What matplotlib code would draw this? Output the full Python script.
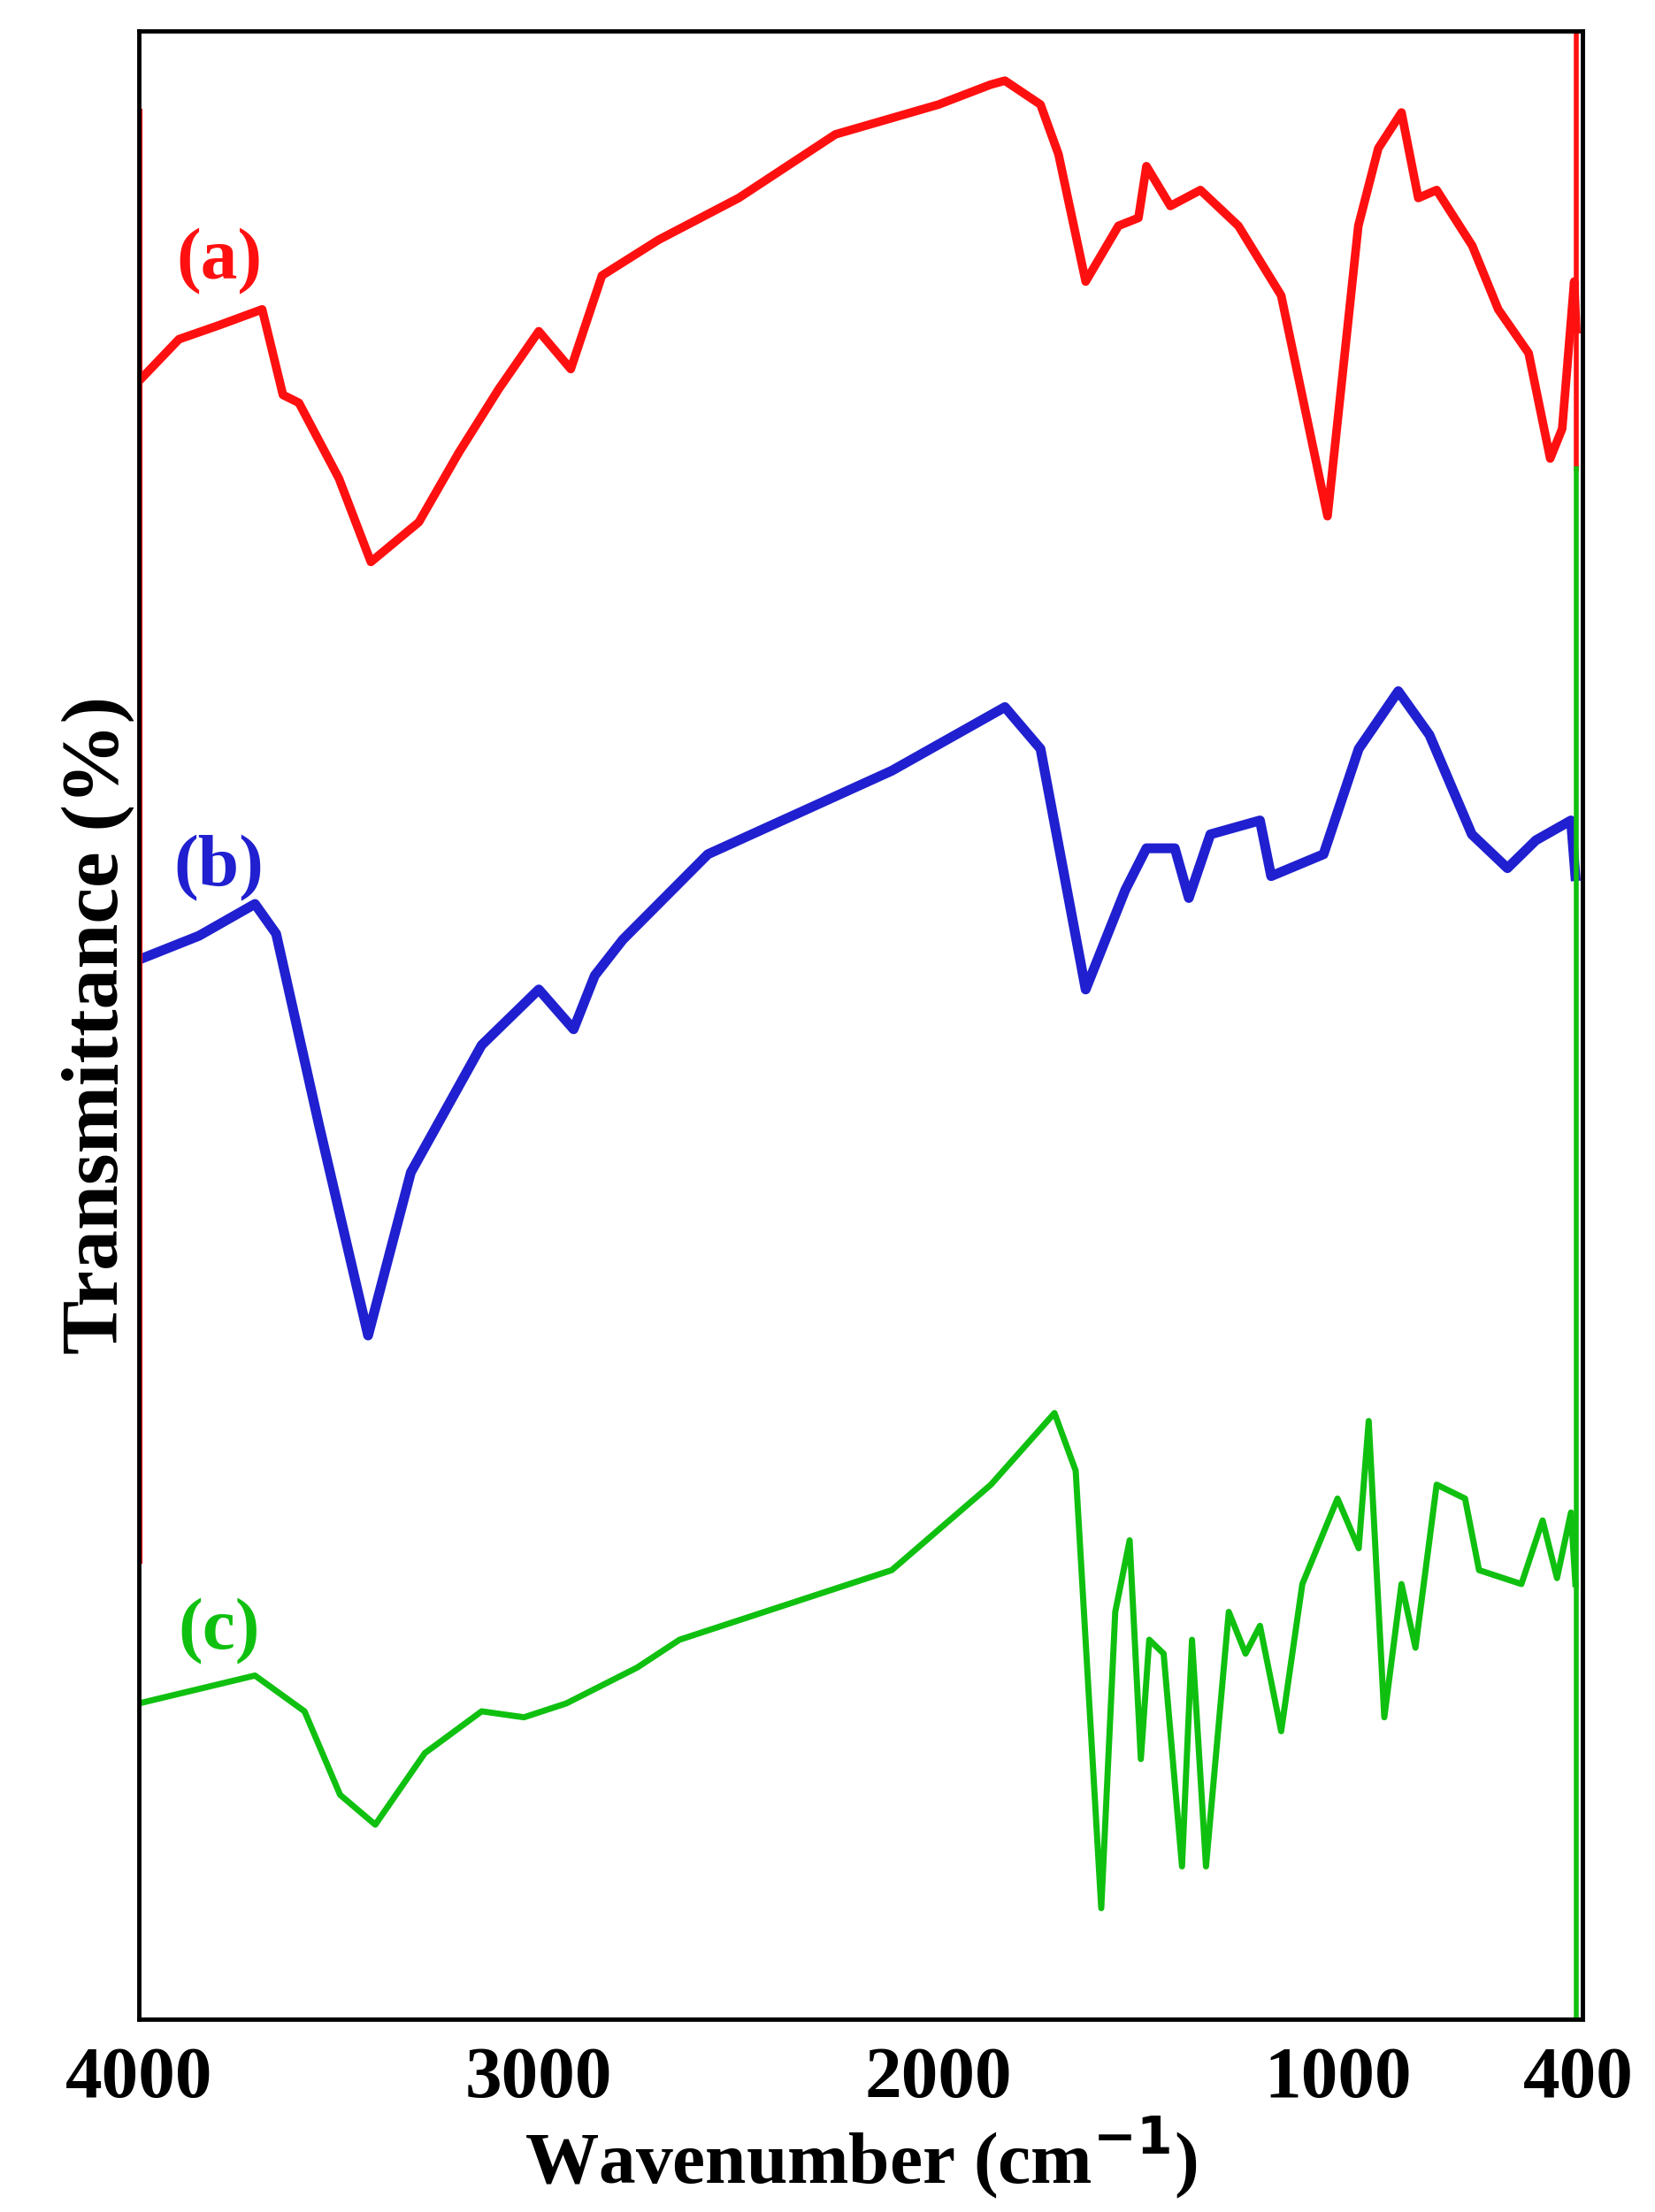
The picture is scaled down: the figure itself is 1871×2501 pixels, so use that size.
import matplotlib
matplotlib.use('Agg')
import matplotlib.pyplot as plt

# FTIR spectra, wavenumber (cm-1) vs transmittance (arbitrary %, stacked)
wn_a = [4000, 3900, 3800, 3692, 3640, 3600, 3500, 3420, 3300, 3200, 3100, 3000,
        2920, 2842, 2700, 2500, 2258, 2000, 1870, 1834, 1745, 1700, 1632, 1550,
        1500, 1480, 1420, 1345, 1250, 1143, 1027, 950, 900, 842, 800, 754, 665,
        600, 524, 470, 440, 410, 405]
t_a = [82.4, 84.5, 85.2, 86.0, 81.7, 81.3, 77.5, 73.3, 75.3, 78.8, 82.0, 84.9,
       83.0, 87.7, 89.5, 91.6, 94.8, 96.3, 97.3, 97.5, 96.3, 93.8, 87.4, 90.2,
       90.6, 93.2, 91.2, 92.0, 90.2, 86.7, 75.6, 90.2, 94.1, 95.9, 91.6, 92.0,
       89.2, 86.0, 83.8, 78.5, 80.0, 87.4, 85.0]

wn_b = [4000, 3850, 3710, 3657, 3550, 3427, 3320, 3143, 3000, 2913, 2860, 2790,
        2577, 2117, 1834, 1745, 1632, 1533, 1480, 1409, 1374, 1320, 1196, 1168,
        1037, 949, 850, 772, 666, 577, 506, 418, 407]
t_b = [53.3, 54.5, 56.1, 54.6, 45.0, 34.4, 42.6, 49.0, 51.8, 49.8, 52.5, 54.3,
       58.6, 62.8, 66.0, 63.9, 51.8, 56.8, 58.9, 58.9, 56.4, 59.6, 60.3, 57.5,
       58.6, 63.9, 66.8, 64.6, 59.6, 57.9, 59.3, 60.3, 57.5]

wn_c = [4000, 3710, 3586, 3497, 3409, 3285, 3143, 3037, 2931, 2754, 2648, 2117,
        1869, 1710, 1657, 1593, 1558, 1522, 1494, 1473, 1437, 1391, 1366, 1331,
        1274, 1232, 1196, 1143, 1090, 1002, 949, 924, 885, 842, 807, 754, 683,
        648, 542, 489, 453, 418, 407]
t_c = [15.9, 17.3, 15.5, 11.3, 9.8, 13.4, 15.5, 15.2, 15.9, 17.7, 19.1, 22.6,
       26.9, 30.5, 27.6, 5.6, 20.5, 24.1, 13.1, 19.1, 18.4, 7.7, 19.1, 7.7,
       20.5, 18.4, 19.8, 14.5, 21.9, 26.2, 23.7, 30.1, 15.2, 21.9, 18.7, 26.9,
       26.2, 22.6, 21.9, 25.1, 22.2, 25.5, 21.9]

labels = ['(a)', '(b)', '(c)']
label_y = [88.4, 57.9, 19.5]
colors = ['#ff1010', '#2020d0', '#10c010']

fig = plt.figure(figsize=(18.71, 25.01), dpi=100)
ax = fig.add_axes([0.084, 0.087, 0.872, 0.899])
ax.plot(wn_a, t_a, color=colors[0], lw=7)
ax.plot(wn_b, t_b, color=colors[1], lw=8)
ax.plot(wn_c, t_c, color=colors[2], lw=5)

for lab, y, c in zip(labels, label_y, colors):
    ax.text(3800, y, lab, color=c, fontsize=60, fontweight='bold',
            family='Liberation Serif', ha='center', va='center')

ax.plot([3997, 3997], [23, 96], color='#ff1010', lw=3)
ax.plot([404, 404], [78, 100], color='#ff1010', lw=4)
ax.plot([404, 404], [0, 78], color='#10c010', lw=4)

ax.set_xlim(4000, 390)
ax.set_ylim(0, 100)
ax.set_xticks([4000, 3000, 2000, 1000, 400])
ax.set_xticklabels(['4000', '3000', '2000', '1000', '400'])
ax.set_yticks([])
ax.tick_params(axis='x', length=0, pad=22)
for t in ax.get_xticklabels():
    t.set_fontsize(60)
    t.set_fontweight('bold')
    t.set_family('Liberation Serif')
for s in ax.spines.values():
    s.set_linewidth(3.5)
ax.set_xlabel('Wavenumber (cm$^{\\mathbf{-1}}$)', fontsize=60, fontweight='bold',
              family='Liberation Serif', labelpad=2)
ax.set_ylabel('Transmittance (%)', fontsize=66, fontweight='bold',
              family='Liberation Serif', labelpad=4)

fig.savefig('out.png', dpi=100, facecolor='white')
